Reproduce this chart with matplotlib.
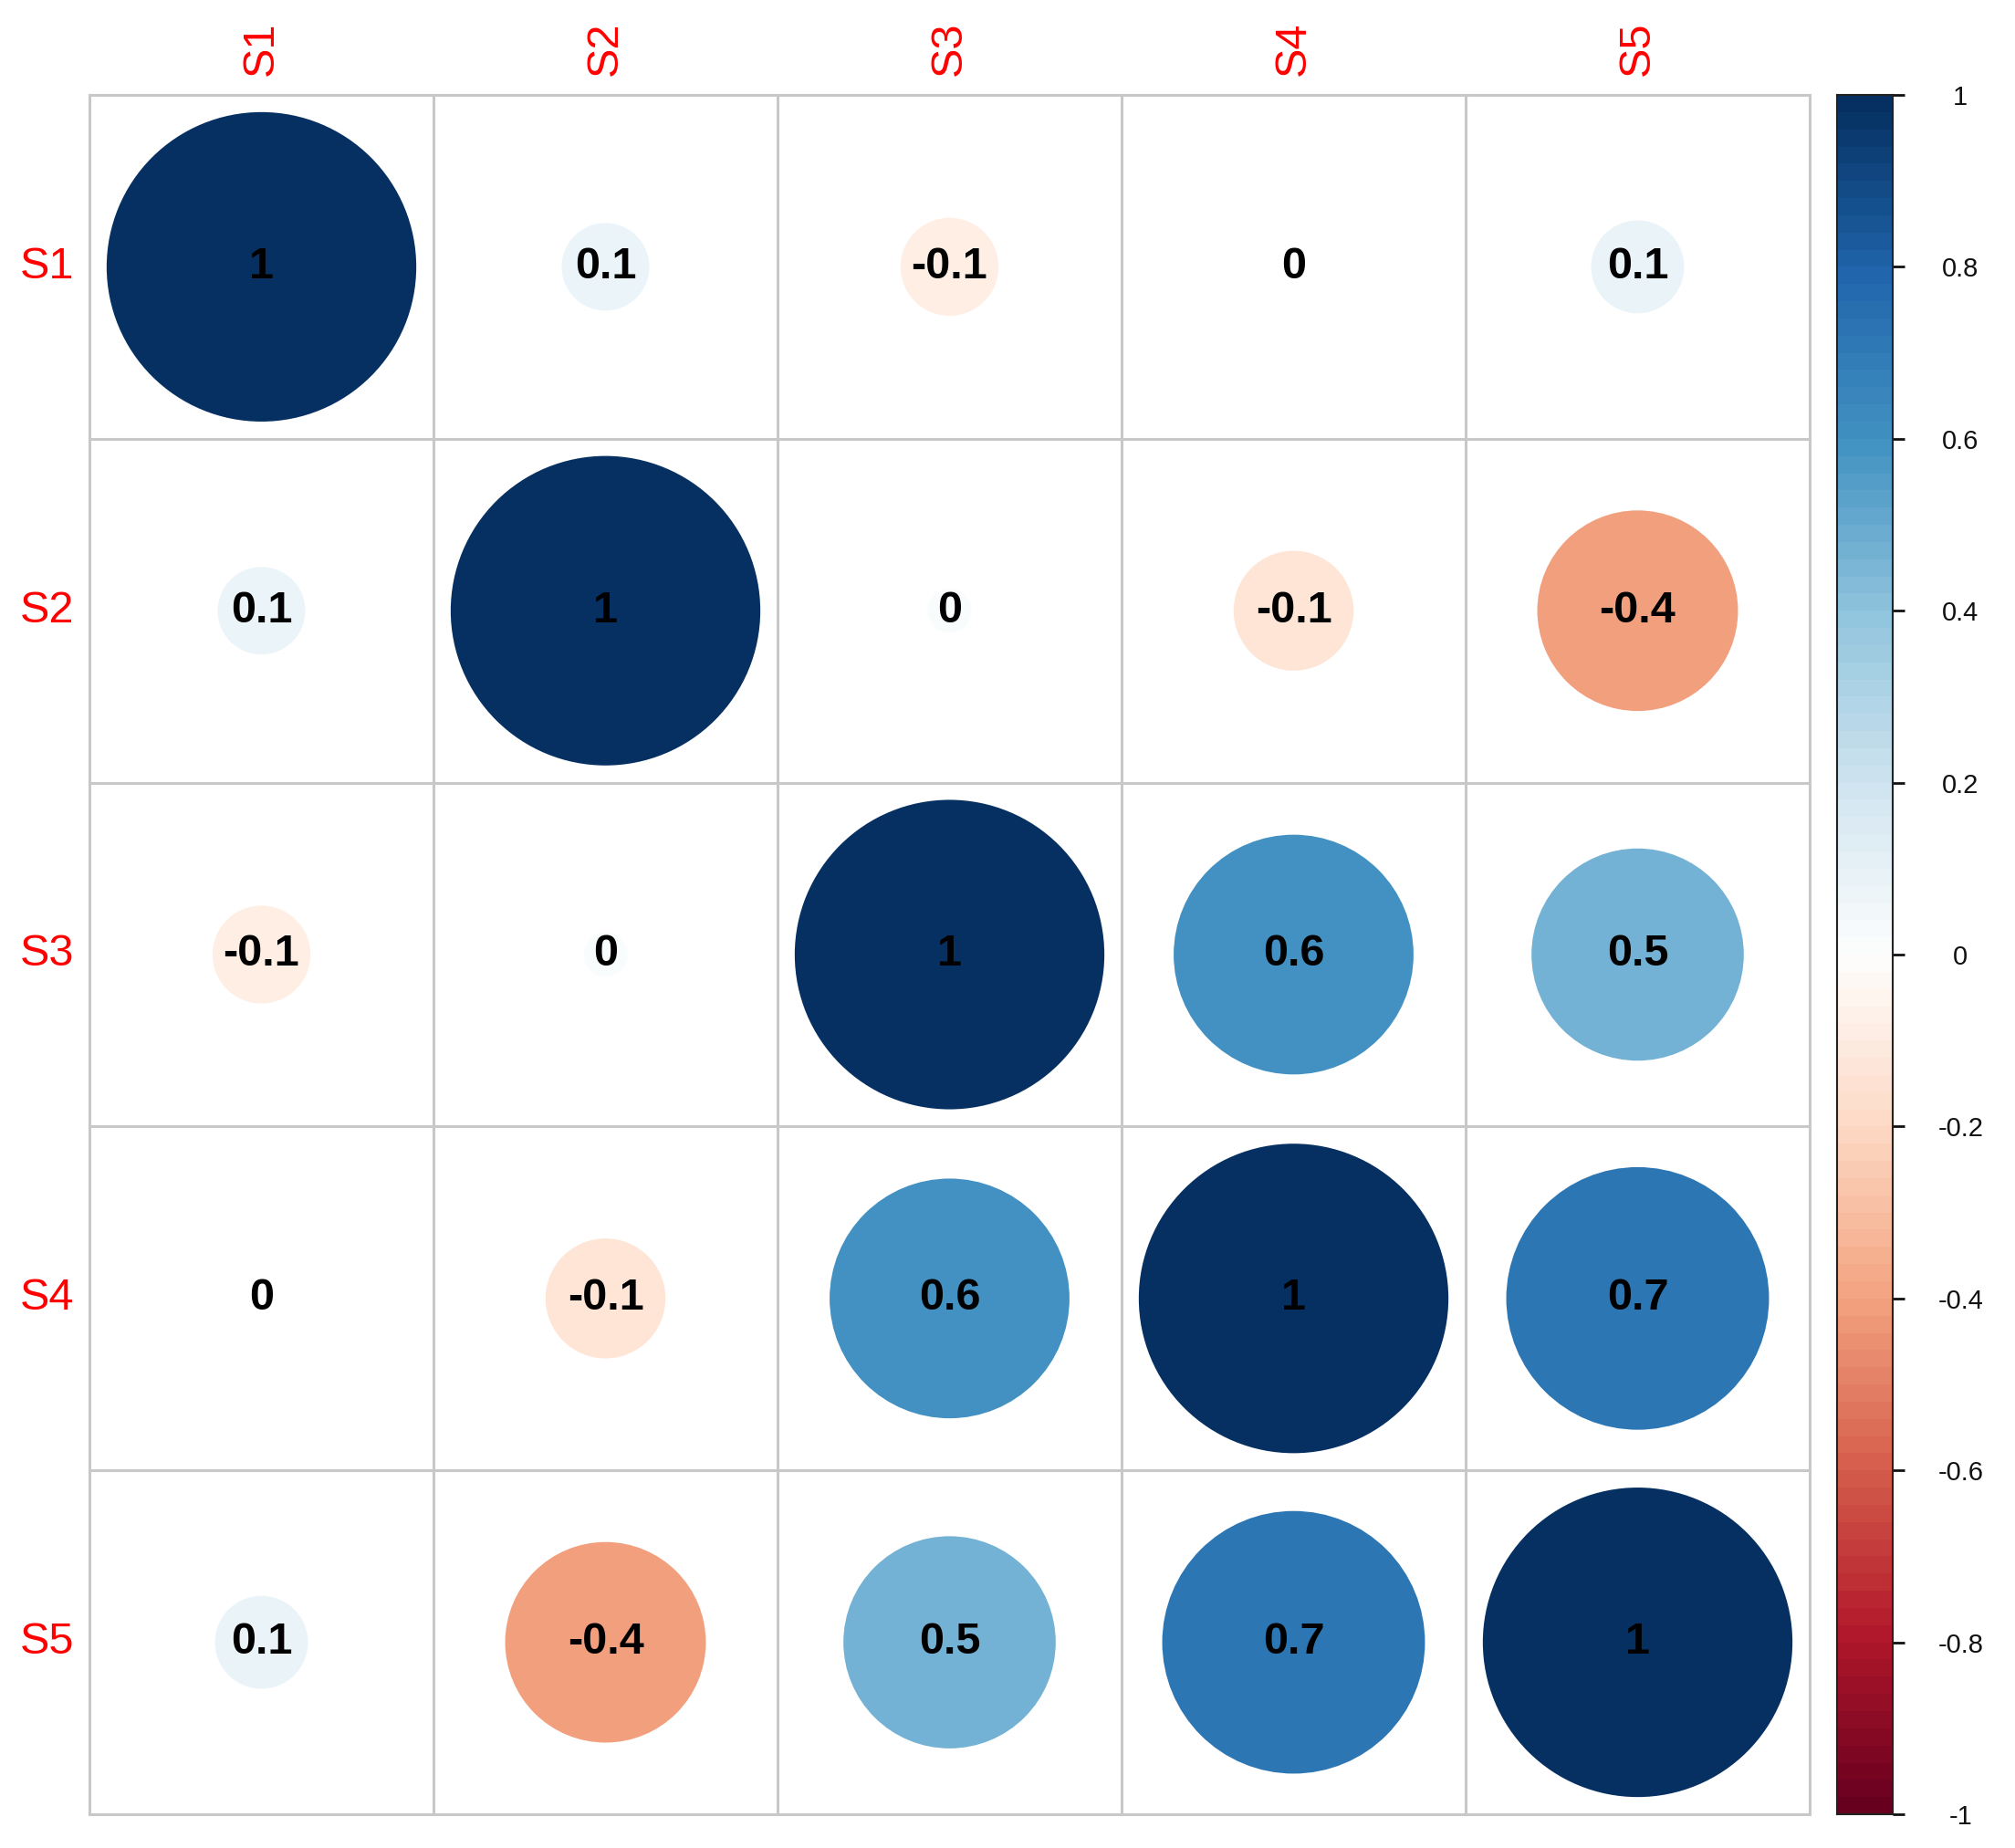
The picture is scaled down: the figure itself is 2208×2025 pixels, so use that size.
import matplotlib
matplotlib.use('Agg')
import matplotlib.pyplot as plt
from matplotlib.colors import LinearSegmentedColormap, ListedColormap, Normalize
from matplotlib.patches import Circle
import numpy as np

plt.rcParams['font.family'] = ['Liberation Sans', 'DejaVu Sans']

#=============================Data=============================================
names = ['S1', 'S2', 'S3', 'S4', 'S5']

# correlation values (estimated from circle sizes)
corr = [[1.00, 0.08, -0.10, 0.00, 0.09],
        [0.08, 1.00, 0.02, -0.15, -0.42],
        [-0.10, 0.02, 1.00, 0.60, 0.47],
        [0.00, -0.15, 0.60, 1.00, 0.72],
        [0.09, -0.42, 0.47, 0.72, 1.00]]

# numbers printed in the cells
corr_text = [['1', '0.1', '-0.1', '0', '0.1'],
             ['0.1', '1', '0', '-0.1', '-0.4'],
             ['-0.1', '0', '1', '0.6', '0.5'],
             ['0', '-0.1', '0.6', '1', '0.7'],
             ['0.1', '-0.4', '0.5', '0.7', '1']]

cbar_ticks = [-1, -0.8, -0.6, -0.4, -0.2, 0, 0.2, 0.4, 0.6, 0.8, 1]
cbar_labels = ['-1', '-0.8', '-0.6', '-0.4', '-0.2', '0', '0.2', '0.4',
               '0.6', '0.8', '1']
#==============================================================================

rdbu = ["#67001F", "#B2182B", "#D6604D", "#F4A582", "#FDDBC7", "#FFFFFF",
        "#D1E5F0", "#92C5DE", "#4393C3", "#2166AC", "#053061"]
cmap = LinearSegmentedColormap.from_list('corr_rdbu', rdbu, N=200)
norm = Normalize(-1, 1)

fig = plt.figure(figsize=(22.08, 20.25), dpi=100)
ax = fig.add_axes([98/2208, 1 - 1988/2025, 1885/2208, 1884/2025])
n = len(names)
ax.set_xlim(0, n)
ax.set_ylim(n, 0)
ax.set_xticks([])
ax.set_yticks([])
for s in ax.spines.values():
    s.set_visible(False)

# circles + numbers
for i in range(n):
    for j in range(n):
        v = corr[i][j]
        r = 0.45 * np.sqrt(abs(v))
        ax.add_patch(Circle((j + 0.5, i + 0.5), r, facecolor=cmap(norm(v)),
                            edgecolor='none', zorder=2))
        ax.text(j + 0.5, i + 0.5, corr_text[i][j], ha='center', va='center',
                fontsize=35, fontweight='bold', color='black', zorder=3)

# grid
for k in range(n + 1):
    ax.axhline(k, color='#C8C8C8', lw=2.2, zorder=1, clip_on=False)
    ax.axvline(k, color='#C8C8C8', lw=2.2, zorder=1, clip_on=False)

# labels
for k, nm in enumerate(names):
    ax.text(-0.045, k + 0.5, nm, ha='right', va='center', fontsize=35,
            color='red', clip_on=False)
    ax.text(k + 0.5, -0.056, nm, ha='center', va='bottom', rotation=90,
            fontsize=35, color='red', clip_on=False)

#============================Colour legend=====================================
cax = fig.add_axes([2013/2208, 1 - 1988/2025, 61/2208, 1884/2025])
grad = np.linspace(-1, 1, 100).reshape(-1, 1)
cax.imshow(grad, aspect='auto', extent=[0, 1, -1, 1], origin='lower',
           cmap=ListedColormap(cmap(np.linspace(0, 1, 100))), norm=norm,
           interpolation='nearest')
cax.set_xlim(0, 1)
cax.set_ylim(-1, 1)
cax.set_xticks([])
cax.yaxis.tick_right()
cax.set_yticks(cbar_ticks)
cax.set_yticklabels(cbar_labels)
cax.tick_params(axis='y', length=9.5, width=2, pad=44, labelsize=21,
                colors='#111111')
for lbl in cax.get_yticklabels():
    lbl.set_horizontalalignment('center')
for s in cax.spines.values():
    s.set_color('#222222')
    s.set_linewidth(1.5)

fig.savefig('out.png', dpi=100)
